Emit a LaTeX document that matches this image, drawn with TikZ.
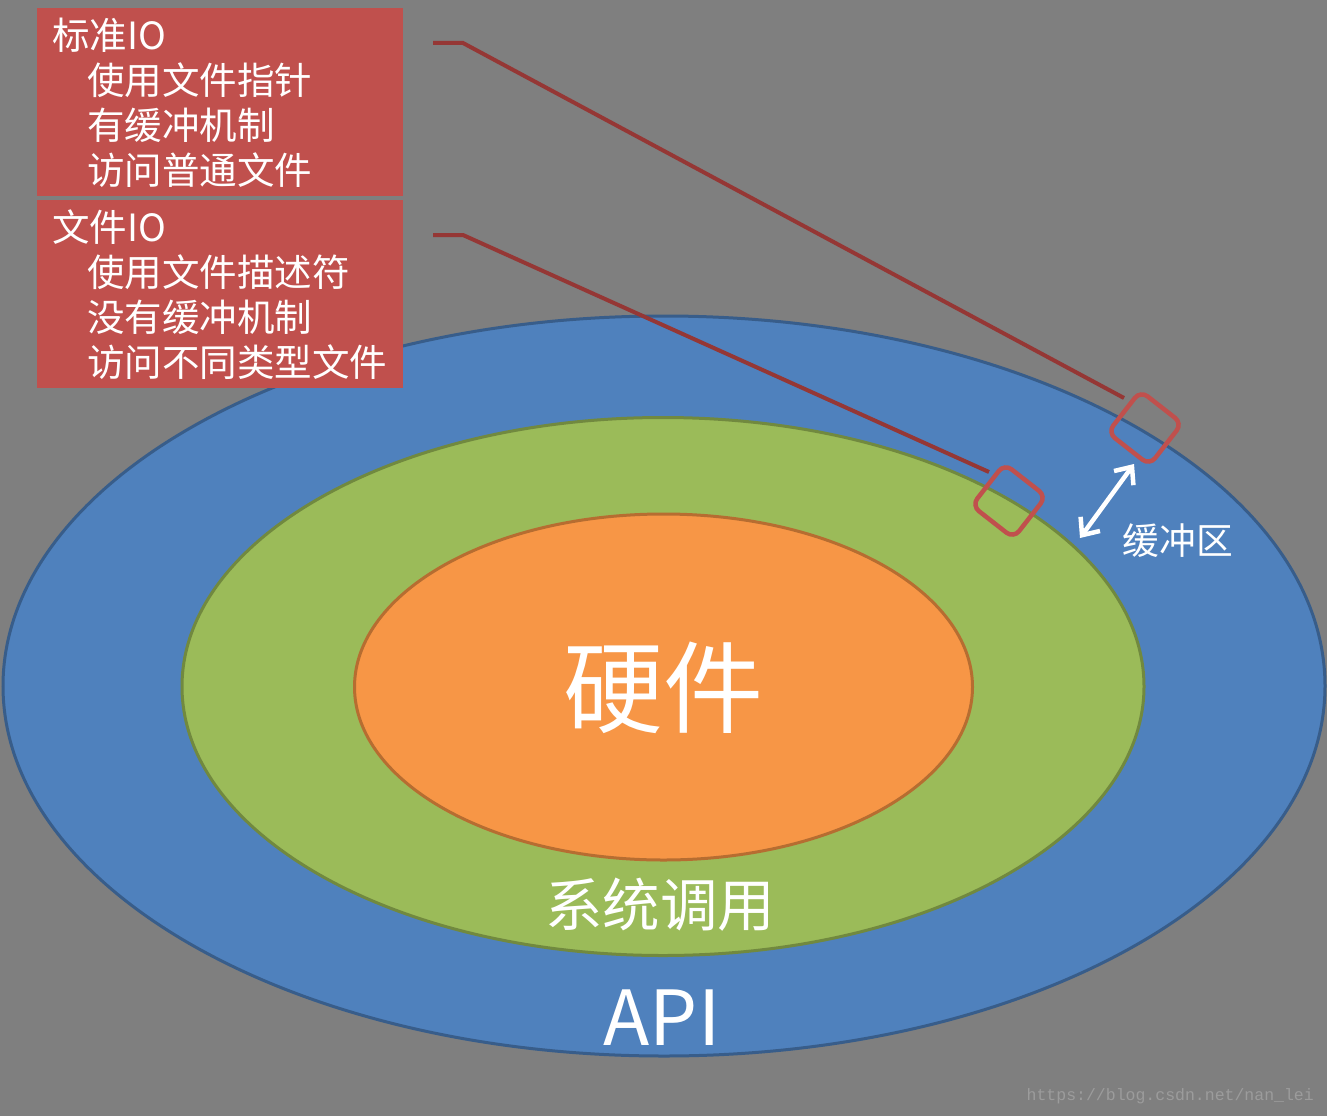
\documentclass[tikz,border=0pt]{standalone}
\usepackage{fontspec}
\setmainfont{Noto Sans CJK SC}
\newfontfamily\wmfont{Liberation Mono}
\usetikzlibrary{arrows.meta}
\definecolor{bgc}{HTML}{7F7F7F}
\definecolor{bluef}{HTML}{4F81BD}
\definecolor{blued}{HTML}{385D8A}
\definecolor{greenf}{HTML}{9BBB59}
\definecolor{greend}{HTML}{71893F}
\definecolor{orangef}{HTML}{F79646}
\definecolor{oranged}{HTML}{B66D31}
\definecolor{redf}{HTML}{C0504D}
\definecolor{conn}{HTML}{953735}
\definecolor{wmc}{HTML}{9C9C9C}
\tikzset{
  redbox/.style={fill=redf, draw=none, minimum width=366pt, minimum height=188pt, inner sep=0pt},
  boxtxt/.style={text=white, anchor=base west, inner sep=0pt, font=\fontsize{37.5}{45}\selectfont},
  connline/.style={draw=conn, line width=4pt},
  bufsq/.style={draw=redf, line width=4.5pt, rounded corners=9pt, minimum width=53pt, minimum height=53pt, inner sep=0pt, fill=none},
  bigtxt/.style={text=white, inner sep=0pt}
}
\begin{document}
\begin{tikzpicture}[x=1pt,y=-1pt]
\fill[bgc] (0,0) rectangle (1327,1116);
\useasboundingbox (0,0) rectangle (1327,1116);
% ellipses
\draw[fill=bluef, draw=blued, line width=3pt] (664,686) ellipse [x radius=661pt, y radius=370pt];
\draw[fill=greenf, draw=greend, line width=3pt] (663,686.5) ellipse [x radius=481pt, y radius=269pt];
\draw[fill=orangef, draw=oranged, line width=3pt] (663.5,687) ellipse [x radius=309pt, y radius=173pt];
% connectors
\coordinate (c1a) at (433,43);
\coordinate (c1b) at (463,43);
\coordinate (c1e) at (1124,398);
\coordinate (c2a) at (433,235);
\coordinate (c2b) at (463,235);
\coordinate (c2e) at (989,472);
\draw[connline] (c1a) -- (c1b) -- (c1e);
\draw[connline] (c2a) -- (c2b) -- (c2e);
% red boxes
\node[redbox] (b1) at (220,102) {};
\node[redbox] (b2) at (220,294) {};
\node[boxtxt] (t11) at (52,49) {标准IO};
\node[boxtxt] (t12) at (87,94) {使用文件指针};
\node[boxtxt] (t13) at (87,139) {有缓冲机制};
\node[boxtxt] (t14) at (87,184) {访问普通文件};
\node[boxtxt] (t21) at (52,241) {文件IO};
\node[boxtxt] (t22) at (87,286) {使用文件描述符};
\node[boxtxt] (t23) at (87,331) {没有缓冲机制};
\node[boxtxt] (t24) at (87,376) {访问不同类型文件};
% buffer squares
\node[bufsq, rotate=-38] (s1) at (1145,428) {};
\node[bufsq, rotate=-38] (s2) at (1009,501) {};
% arrow
\coordinate (a1) at (1080,538);
\coordinate (a2) at (1134,464);
\draw[white, line width=4.5pt, {Straight Barb[length=14pt,width=24pt]}-{Straight Barb[length=14pt,width=24pt]}] (a1) -- (a2);
\node[bigtxt, font=\fontsize{36.7}{40}\selectfont] (buf) at (1178,541) {缓冲区};
% labels
\node[bigtxt, font=\fontsize{100}{110}\selectfont] (hw) at (663,688) {硬件};
\node[bigtxt, font=\fontsize{57.5}{62}\selectfont] (sc) at (660,905) {系统调用};
\node[bigtxt, font=\fontsize{76}{84}\selectfont] (api) at (662,1018) {API};
\node[text=wmc, inner sep=0pt, anchor=east, font=\wmfont\fontsize{16.5}{18}\selectfont] (wm) at (1314,1096) {https://blog.csdn.net/nan\_lei};
\end{tikzpicture}
\end{document}
